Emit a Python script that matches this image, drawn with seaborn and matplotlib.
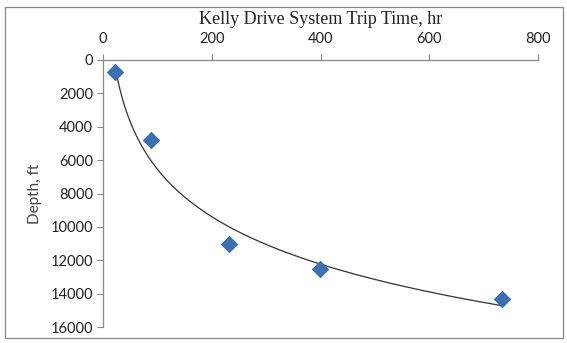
import numpy as np
import pandas as pd
import seaborn as sns
import matplotlib.pyplot as plt
from matplotlib.patches import Rectangle

# Data
trip_time_hr = [22, 88, 232, 399, 733]
depth_ft = [700, 4800, 11000, 12500, 14300]
x_ticks = [0, 200, 400, 600, 800]
y_ticks = [0, 2000, 4000, 6000, 8000, 10000, 12000, 14000, 16000]

df = pd.DataFrame({"time": trip_time_hr, "depth": depth_ft})

# Logarithmic trendline (like Excel's), fitted to the points
a, b = np.polyfit(np.log(df["time"]), df["depth"], 1)
trend = pd.DataFrame({"time": np.linspace(min(trip_time_hr), max(trip_time_hr), 200)})
trend["depth"] = a * np.log(trend["time"]) + b

sns.set_theme(style="white")
plt.rcParams["font.family"] = ["Lato", "DejaVu Sans"]

fig = plt.figure(figsize=(5.67, 3.43), dpi=100)
ax = fig.add_axes([0.1817, 0.0466, 0.7672, 0.7785])

sns.lineplot(data=trend, x="time", y="depth", ax=ax, color="#333333", linewidth=0.9, sort=False)
sns.scatterplot(data=df, x="time", y="depth", ax=ax, marker="D", s=70, color="#3A70B8",
                edgecolor="#2F5F9E", linewidth=0.5, zorder=3)

ax.set_xlim(0, 800)
ax.set_ylim(16000, 0)
ax.set_xticks(x_ticks)
ax.set_yticks(y_ticks)
ax.xaxis.tick_top()
ax.xaxis.set_label_position("top")
ax.tick_params(axis="both", which="both", direction="out", length=4, width=0.8,
               color="#888888", labelsize=10.5, labelcolor="#222222", pad=3)
ax.tick_params(axis="x", top=True, bottom=False, pad=6)
ax.tick_params(axis="y", left=True)

for side in ["right", "bottom"]:
    ax.spines[side].set_visible(False)
for side in ["top", "left"]:
    ax.spines[side].set_color("#888888")
    ax.spines[side].set_linewidth(0.9)

ax.set_xlabel("Kelly Drive System Trip Time, hr", family=["Liberation Serif", "DejaVu Serif"],
              fontsize=13, color="#222222", labelpad=6)
ax.set_ylabel("Depth, ft", fontsize=11, color="#444444", labelpad=6)

# Outer chart border
fig.patches.append(Rectangle((5 / 567, 1 - 338 / 343), 558 / 567, 331 / 343,
                             transform=fig.transFigure, fill=False,
                             edgecolor="#888888", linewidth=0.9))

plt.savefig("out.png", dpi=100)
